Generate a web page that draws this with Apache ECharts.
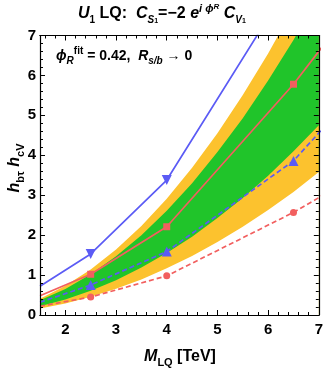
<!DOCTYPE html>
<html><head><meta charset="utf-8">
<script src="https://cdn.jsdelivr.net/npm/echarts@6/dist/echarts.min.js"></script>
<style>html,body{margin:0;padding:0;background:#fff}#c{width:326px;height:369px}</style>
</head><body><div id="c"></div>
<script>
// ---- data ----
const massPts = [1.5, 2.5, 4, 6.5, 9];
const blueSolid = [0.72, 1.53, 3.38, 8.46, 12.0];
const redSolid = [0.48, 1.02, 2.21, 5.78, 9.9];
const blueDashed = [0.32, 0.75, 1.59, 3.86, 7.36];
const redDashed = [0.22, 0.45, 0.98, 2.57, 4.42];

const bandX = [1.5, 2, 2.5, 3, 3.5, 4, 4.5, 5, 5.5, 6, 6.5, 7];
const yellowTop = [0.41, 0.73, 1.14, 1.64, 2.23, 2.91, 3.69, 4.55, 5.51, 6.55, 7.69, 8.92];
const greenTop = [0.37, 0.65, 1.02, 1.47, 2.00, 2.61, 3.30, 4.08, 4.93, 5.87, 6.89, 7.99];
const greenBottom = [0.22, 0.39, 0.61, 0.87, 1.19, 1.55, 1.96, 2.43, 2.93, 3.49, 4.10, 4.75];
const yellowBottom = [0.16, 0.29, 0.46, 0.66, 0.89, 1.17, 1.48, 1.83, 2.21, 2.63, 3.08, 3.58];

const xTickLabels = [2, 3, 4, 5, 6, 7];
const yTickLabels = [0, 1, 2, 3, 4, 5, 6, 7];

// ---- styling ----
const FONT = '"Liberation Sans", Arial, sans-serif';
const BLUE = '#5b5bf5';
const RED = '#f25f5f';
const GREEN = '#20c42a';
const YELLOW = '#fcc22e';

const xMinor = [];
for (let v = 1.6; v < 7.0001; v += 0.2) {
  const r = Math.round(v * 10) / 10;
  if (Math.abs(r - Math.round(r)) > 1e-6) xMinor.push(r);
}

const zip = (xs, ys) => xs.map((x, i) => [x, ys[i]]);
// markers at the left frame edge are hidden (clipped in the reference)
const zipMarked = (xs, ys) => xs.map((x, i) => i === 0 ? {value: [x, ys[i]], symbolSize: 0} : [x, ys[i]]);

const chart = echarts.init(document.getElementById('c'), null, {renderer: 'canvas'});

function xAx(pos, major, show) {
  return {
    type: 'value', min: 1.5, max: 7, position: pos, z: 10,
    axisLine: {show: true, onZero: false, lineStyle: {color: '#000', width: 1.2}},
    axisTick: {show: true, inside: true, length: major ? 5 : 3, customValues: major ? xTickLabels : xMinor,
      lineStyle: {color: '#000', width: 1}},
    axisLabel: {show: show, customValues: xTickLabels, margin: 7, color: '#000',
      fontFamily: FONT, fontWeight: 'bold', fontSize: 15},
    splitLine: {show: false}
  };
}
function yAx(pos, show) {
  return {
    type: 'value', min: 0, max: 7, interval: 1, position: pos, z: 10,
    axisLine: {show: true, onZero: false, lineStyle: {color: '#000', width: 1.2}},
    axisTick: {show: true, inside: true, length: 5, lineStyle: {color: '#000', width: 1}},
    minorTick: {show: true, splitNumber: 5, length: 3, lineStyle: {color: '#000', width: 1}},
    axisLabel: {show: show, margin: 4, color: '#000', fontFamily: FONT, fontWeight: 'bold', fontSize: 15,
      formatter: v => yTickLabels.includes(v) ? String(v) : ''},
    splitLine: {show: false}
  };
}

function band(ys, color) {
  return {
    type: 'line', data: zip(bandX, ys), symbol: 'none', silent: true, z: 1,
    lineStyle: {width: 0, color: color}, areaStyle: {color: color, opacity: 1},
    xAxisIndex: 0, yAxisIndex: 0
  };
}
function curve(ys, color, dashed, symbol, size, rot) {
  return {
    type: 'line', data: zipMarked(massPts, ys), symbol: symbol, symbolSize: size, symbolRotate: rot || 0,
    z: 5, clip: true,
    itemStyle: {color: color, borderWidth: 0},
    lineStyle: {color: color, width: 1.7, type: dashed ? [5, 3] : 'solid'},
    xAxisIndex: 0, yAxisIndex: 0
  };
}

const T = {fontFamily: FONT, fontWeight: 'bold', color: '#000'};
const titleRich = {
  b: Object.assign({fontSize: 16, lineHeight: 22, verticalAlign: 'middle'}, T),
  bi: Object.assign({fontSize: 16, fontStyle: 'italic', lineHeight: 22, verticalAlign: 'middle'}, T),
  sub: Object.assign({fontSize: 10, lineHeight: 10, verticalAlign: 'bottom'}, T),
  subi: Object.assign({fontSize: 10, fontStyle: 'italic', lineHeight: 12, verticalAlign: 'bottom'}, T),
  subsub: Object.assign({fontSize: 7, lineHeight: 4, verticalAlign: 'bottom'}, T),
  sup: Object.assign({fontSize: 11, fontStyle: 'italic', lineHeight: 11, verticalAlign: 'top'}, T),
  supsub: Object.assign({fontSize: 8, fontStyle: 'italic', lineHeight: 16, verticalAlign: 'top'}, T)
};
const annRich = {
  b: Object.assign({fontSize: 14, lineHeight: 20, verticalAlign: 'middle'}, T),
  bi: Object.assign({fontSize: 14, fontStyle: 'italic', lineHeight: 20, verticalAlign: 'middle'}, T),
  subi: Object.assign({fontSize: 10, fontStyle: 'italic', lineHeight: 9, verticalAlign: 'bottom'}, T),
  sup: Object.assign({fontSize: 10, lineHeight: 9, verticalAlign: 'top'}, T)
};
const axRich = {
  b: Object.assign({fontSize: 16, lineHeight: 22, verticalAlign: 'middle'}, T),
  bi: Object.assign({fontSize: 16, fontStyle: 'italic', lineHeight: 22, verticalAlign: 'middle'}, T),
  sub: Object.assign({fontSize: 11, lineHeight: 11, verticalAlign: 'bottom'}, T)
};

chart.setOption({
  animation: false,
  backgroundColor: '#fff',
  grid: {left: 40, right: 6, top: 35.5, bottom: 54, containLabel: false},
  xAxis: [xAx('bottom', true, true), xAx('bottom', false, false), xAx('top', true, false), xAx('top', false, false)],
  yAxis: [yAx('left', true), yAx('right', false)],
  series: [
    band(yellowTop, YELLOW),
    band(greenTop, GREEN),
    band(greenBottom, YELLOW),
    band(yellowBottom, '#ffffff'),
    curve(blueSolid, BLUE, false, 'triangle', 10, 180),
    curve(redSolid, RED, false, 'rect', 7),
    curve(blueDashed, BLUE, true, 'triangle', 10),
    curve(redDashed, RED, true, 'circle', 7)
  ],
  graphic: [
    {type: 'text', left: 78, top: 3, z: 20,
      style: {text: '{bi|U}{sub|1}{b| LQ:  }{bi|C}{subi|S}{subsub|1}{b|=−2 }{bi|e}{sup|i ϕ}{supsub|R}{b| }{bi|C}{subi|V}{subsub|1}', rich: titleRich}},
    {type: 'text', left: 56, top: 46, z: 20,
      style: {text: '{bi|ϕ}{subi|R}{sup|fit}{b| = 0.42,  }{bi|R}{subi|s/b}{b| → 0}', rich: annRich}},
    {type: 'text', x: 180, y: 357, z: 20,
      style: {text: '{bi|M}{sub|LQ}{b| [TeV]}', rich: axRich, align: 'center', verticalAlign: 'middle'}},
    {type: 'text', x: 15, y: 168, rotation: Math.PI / 2, z: 20,
      style: {text: '{bi|h}{sub|bτ}{b| }{bi|h}{sub|cV}', rich: axRich, align: 'center', verticalAlign: 'middle'}}
  ]
});
</script></body></html>
